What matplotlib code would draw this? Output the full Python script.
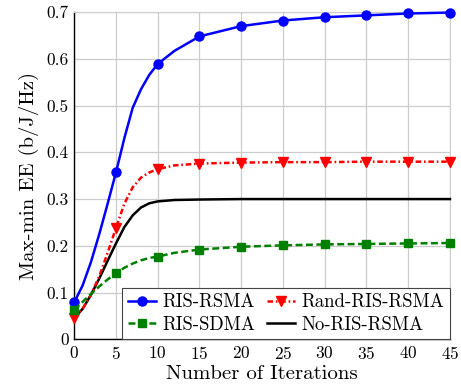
import matplotlib.pyplot as plt

plt.rcParams['font.family'] = ['cmr10', 'DejaVu Serif']
plt.rcParams['mathtext.fontset'] = 'cm'
plt.rcParams['axes.formatter.use_mathtext'] = True
plt.rcParams['lines.scale_dashes'] = False

# iterations with readings (markers drawn every 5 iterations)
iters_fine = [0, 1, 2, 3, 4, 5, 6, 7, 8, 9, 10, 12, 15, 20, 25, 30, 35, 40, 45]
marker_idx = [0, 5, 10, 12, 13, 14, 15, 16, 17, 18]

ris_rsma = [0.079, 0.115, 0.165, 0.225, 0.29, 0.357, 0.43, 0.495, 0.535, 0.566, 0.589,
            0.617, 0.648, 0.670, 0.682, 0.689, 0.693, 0.697, 0.699]
rand_ris_rsma = [0.045, 0.065, 0.095, 0.135, 0.185, 0.238, 0.29, 0.325, 0.346, 0.357, 0.364,
                 0.372, 0.376, 0.378, 0.379, 0.379, 0.380, 0.380, 0.380]
ris_sdma = [0.063, 0.08, 0.097, 0.113, 0.128, 0.141, 0.153, 0.162, 0.169, 0.174, 0.177,
            0.185, 0.192, 0.198, 0.201, 0.203, 0.204, 0.205, 0.206]
no_ris_rsma = [0.045, 0.065, 0.095, 0.13, 0.168, 0.205, 0.24, 0.265, 0.282, 0.291, 0.295,
               0.298, 0.299, 0.300, 0.300, 0.300, 0.300, 0.300, 0.300]

fig = plt.figure(figsize=(4.61, 3.9), dpi=100)
ax = fig.add_axes([0.161, 0.130, 0.815, 0.839])

l1, = ax.plot(iters_fine, ris_rsma, color='blue', lw=1.8, marker='o', ms=6.5,
              markevery=marker_idx, label='RIS-RSMA', clip_on=False, zorder=5)
l2, = ax.plot(iters_fine, rand_ris_rsma, color='red', lw=1.8, marker='v', ms=6.5,
              markevery=marker_idx, linestyle=(0, (4, 2, 1.2, 2)), label='Rand-RIS-RSMA',
              clip_on=False, zorder=5)
l3, = ax.plot(iters_fine, ris_sdma, color='green', lw=1.8, marker='s', ms=6,
              markevery=marker_idx, linestyle=(0, (5, 2.5)), label='RIS-SDMA',
              clip_on=False, zorder=5)
l4, = ax.plot(iters_fine, no_ris_rsma, color='black', lw=1.8, label='No-RIS-RSMA',
              clip_on=False, zorder=4)

ax.set_xlim(0, 45)
ax.set_ylim(0, 0.7)
ax.set_xticks(range(0, 46, 5))
ax.set_yticks([0, 0.1, 0.2, 0.3, 0.4, 0.5, 0.6, 0.7])
ax.set_yticklabels(['0', '0.1', '0.2', '0.3', '0.4', '0.5', '0.6', '0.7'])
ax.grid(True, color='#cccccc', lw=0.9)
ax.set_axisbelow(True)
for s in ['top', 'right']:
    ax.spines[s].set_color('#cccccc')
for s in ['left', 'bottom']:
    ax.spines[s].set_color('black')
    ax.spines[s].set_linewidth(1.0)
ax.tick_params(length=0, labelsize=12.5, pad=4)

ax.set_xlabel('Number of Iterations', fontsize=15, labelpad=2)
ax.set_ylabel('Max-min EE (b/J/Hz)', fontsize=15, labelpad=5)

leg = ax.legend([l1, l3, l2, l4], [h.get_label() for h in [l1, l3, l2, l4]],
                loc='lower right', ncol=2, fontsize=13.5, frameon=True, fancybox=False,
                edgecolor='#444444', framealpha=1, borderpad=0.3, handlelength=1.5,
                handletextpad=0.35, columnspacing=0.6, labelspacing=0.25,
                borderaxespad=0.0)
leg.get_frame().set_linewidth(0.8)

fig.savefig('out.png', dpi=100)
